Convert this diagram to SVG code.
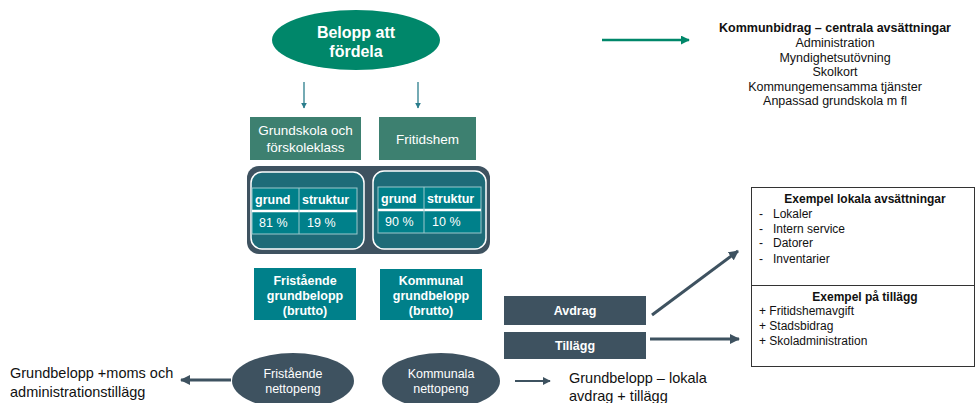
<svg xmlns="http://www.w3.org/2000/svg" width="976" height="403" viewBox="0 0 976 403">
<defs>
<style>
text{font-family:"Liberation Sans",Arial,sans-serif}
.w{fill:#fff}
.b{font-weight:bold}
.slate{fill:#3e5260}
.teal{fill:#00808a}
.green{fill:#3d8070}
.blk{fill:#111}
.line{fill:none}
</style>
<marker id="aT" viewBox="0 0 10 10" refX="9" refY="5" markerWidth="6" markerHeight="6" markerUnits="userSpaceOnUse" orient="auto"><path d="M0,0 L10,5 L0,10 z" fill="#2a7d8c"/></marker>
<marker id="aG" viewBox="0 0 10 10" refX="9" refY="5" markerWidth="9" markerHeight="9" markerUnits="userSpaceOnUse" orient="auto"><path d="M0,0 L10,5 L0,10 z" fill="#00876a"/></marker>
<marker id="aS" viewBox="0 0 10 10" refX="9" refY="5" markerWidth="10" markerHeight="10" markerUnits="userSpaceOnUse" orient="auto"><path d="M0,0 L10,5 L0,10 z" fill="#3e5260"/></marker>
<marker id="aSs" viewBox="0 0 10 10" refX="9" refY="5" markerWidth="8" markerHeight="8" markerUnits="userSpaceOnUse" orient="auto"><path d="M0,0 L10,5 L0,10 z" fill="#3e5260"/></marker>
</defs>
<rect width="976" height="403" fill="#fff"/>

<g id="connectors">
<line class="line" x1="304" y1="82" x2="304" y2="108" stroke="#2a7d8c" stroke-width="1.3" marker-end="url(#aT)"/>
<line class="line" x1="418" y1="82" x2="418" y2="108" stroke="#2a7d8c" stroke-width="1.3" marker-end="url(#aT)"/>
<line class="line" x1="602" y1="40" x2="689" y2="40" stroke="#00876a" stroke-width="2.5" marker-end="url(#aG)"/>
<line class="line" x1="652" y1="315" x2="738" y2="251" stroke="#3e5260" stroke-width="3" marker-end="url(#aS)"/>
<line class="line" x1="650" y1="339" x2="739" y2="339" stroke="#3e5260" stroke-width="3" marker-end="url(#aS)"/>
<line class="line" x1="231" y1="380" x2="181" y2="380" stroke="#3e5260" stroke-width="3" marker-end="url(#aS)"/>
<line class="line" x1="515" y1="381" x2="550" y2="381" stroke="#3e5260" stroke-width="2" marker-end="url(#aSs)"/>
</g>

<g id="belopp">
<ellipse cx="356" cy="40" rx="84" ry="30" fill="#00876a"/>
<text class="w b" x="356" y="38" font-size="16" text-anchor="middle">Belopp att</text>
<text class="w b" x="356" y="57" font-size="16" text-anchor="middle">fördela</text>
</g>

<g id="grundskola">
<rect class="green" x="250" y="117" width="111" height="43"/>
<text class="w" x="305.5" y="135" font-size="13.5" text-anchor="middle">Grundskola och</text>
<text class="w" x="305.5" y="152" font-size="13.5" text-anchor="middle">förskoleklass</text>
</g>

<g id="fritidshem">
<rect class="green" x="379" y="117" width="97" height="43"/>
<text class="w" x="427.5" y="144" font-size="13.5" text-anchor="middle">Fritidshem</text>
</g>

<g id="fordelning">
<rect class="slate" x="247" y="166" width="243" height="88" rx="12"/>
<rect x="251" y="172" width="113" height="77" rx="11" fill="#1e6b78" stroke="#fff" stroke-width="1.5"/>
<rect x="373" y="171" width="113" height="78" rx="11" fill="#1e6b78" stroke="#fff" stroke-width="1.5"/>
</g>

<g id="tabell-fristaende">
<rect x="252" y="188" width="105" height="46" fill="#00808a" stroke="#9cc8cc" stroke-width="1"/>
<line x1="252" y1="211" x2="357" y2="211" stroke="#fff" stroke-width="2.5"/>
<line x1="299" y1="188" x2="299" y2="234" stroke="#9cc8cc" stroke-width="1"/>
<text class="w b" x="255" y="204" font-size="12.5">grund</text>
<text class="w b" x="302" y="204" font-size="12.5">struktur</text>
<text class="w" x="259" y="227" font-size="12.5">81 %</text>
<text class="w" x="307" y="227" font-size="12.5">19 %</text>
</g>

<g id="tabell-kommunal">
<rect x="378" y="187" width="103" height="46" fill="#00808a" stroke="#9cc8cc" stroke-width="1"/>
<line x1="378" y1="210" x2="481" y2="210" stroke="#fff" stroke-width="2.5"/>
<line x1="424" y1="187" x2="424" y2="233" stroke="#9cc8cc" stroke-width="1"/>
<text class="w b" x="381" y="203" font-size="12.5">grund</text>
<text class="w b" x="427" y="203" font-size="12.5">struktur</text>
<text class="w" x="385" y="226" font-size="12.5">90 %</text>
<text class="w" x="432" y="226" font-size="12.5">10 %</text>
</g>

<g id="fristaende-grundbelopp">
<rect class="teal" x="254" y="268" width="102" height="52"/>
<text class="w b" x="305" y="285" font-size="12.5" text-anchor="middle">Fristående</text>
<text class="w b" x="305" y="300" font-size="12.5" text-anchor="middle">grundbelopp</text>
<text class="w b" x="305" y="315" font-size="12.5" text-anchor="middle">(brutto)</text>
</g>

<g id="kommunal-grundbelopp">
<rect class="teal" x="380" y="269" width="102" height="51"/>
<text class="w b" x="431" y="285" font-size="12.5" text-anchor="middle">Kommunal</text>
<text class="w b" x="431" y="300" font-size="12.5" text-anchor="middle">grundbelopp</text>
<text class="w b" x="431" y="315" font-size="12.5" text-anchor="middle">(brutto)</text>
</g>

<g id="kommunbidrag">
<text class="blk b" x="835" y="32" font-size="12.5" text-anchor="middle">Kommunbidrag – centrala avsättningar</text>
<text class="blk" x="835" y="47" font-size="12.5" text-anchor="middle">Administration</text>
<text class="blk" x="835" y="61.5" font-size="12.5" text-anchor="middle">Myndighetsutövning</text>
<text class="blk" x="835" y="76" font-size="12.5" text-anchor="middle">Skolkort</text>
<text class="blk" x="835" y="90.5" font-size="12.5" text-anchor="middle">Kommungemensamma tjänster</text>
<text class="blk" x="835" y="105" font-size="12.5" text-anchor="middle">Anpassad grundskola m fl</text>
</g>

<g id="lokala-avsattningar">
<rect x="751.5" y="187.5" width="223" height="98" fill="#fff" stroke="#333" stroke-width="1"/>
<text class="blk b" x="865" y="203" font-size="12" text-anchor="middle">Exempel lokala avsättningar</text>
<text class="blk" x="759" y="218" font-size="12">-</text>
<text class="blk" x="773" y="218" font-size="12">Lokaler</text>
<text class="blk" x="759" y="233" font-size="12">-</text>
<text class="blk" x="773" y="233" font-size="12">Intern service</text>
<text class="blk" x="759" y="247" font-size="12">-</text>
<text class="blk" x="773" y="247" font-size="12">Datorer</text>
<text class="blk" x="759" y="263" font-size="12">-</text>
<text class="blk" x="773" y="263" font-size="12">Inventarier</text>
</g>

<g id="tillagg-exempel">
<rect x="751.5" y="285.5" width="223" height="81" fill="#fff" stroke="#333" stroke-width="1"/>
<text class="blk b" x="865" y="301" font-size="12" text-anchor="middle">Exempel på tillägg</text>
<text class="blk" x="759" y="315" font-size="12">+ Fritidshemavgift</text>
<text class="blk" x="759" y="330" font-size="12">+ Stadsbidrag</text>
<text class="blk" x="759" y="345" font-size="12">+ Skoladministration</text>
</g>

<g id="avdrag">
<rect class="slate" x="504" y="296" width="142" height="29"/>
<text class="w b" x="575" y="315" font-size="12.5" text-anchor="middle">Avdrag</text>
</g>

<g id="tillagg">
<rect class="slate" x="504" y="332" width="142" height="27"/>
<text class="w b" x="575" y="350" font-size="12.5" text-anchor="middle">Tillägg</text>
</g>

<g id="fristaende-nettopeng">
<ellipse class="slate" cx="293" cy="381" rx="61" ry="28"/>
<text class="w" x="293" y="378" font-size="12.5" text-anchor="middle">Fristående</text>
<text class="w" x="293" y="393" font-size="12.5" text-anchor="middle">nettopeng</text>
</g>

<g id="kommunala-nettopeng">
<ellipse class="slate" cx="441" cy="381" rx="59" ry="28"/>
<text class="w" x="441" y="378" font-size="12.5" text-anchor="middle">Kommunala</text>
<text class="w" x="441" y="393" font-size="12.5" text-anchor="middle">nettopeng</text>
</g>

<g id="fristaende-text">
<text class="blk" x="10" y="378" font-size="14.5">Grundbelopp +moms och</text>
<text class="blk" x="10" y="397" font-size="14.5">administrationstillägg</text>
</g>

<g id="kommunal-text">
<text class="blk" x="569" y="383" font-size="14.5">Grundbelopp – lokala</text>
<text class="blk" x="569" y="401" font-size="14.5">avdrag + tillägg</text>
</g>
</svg>
